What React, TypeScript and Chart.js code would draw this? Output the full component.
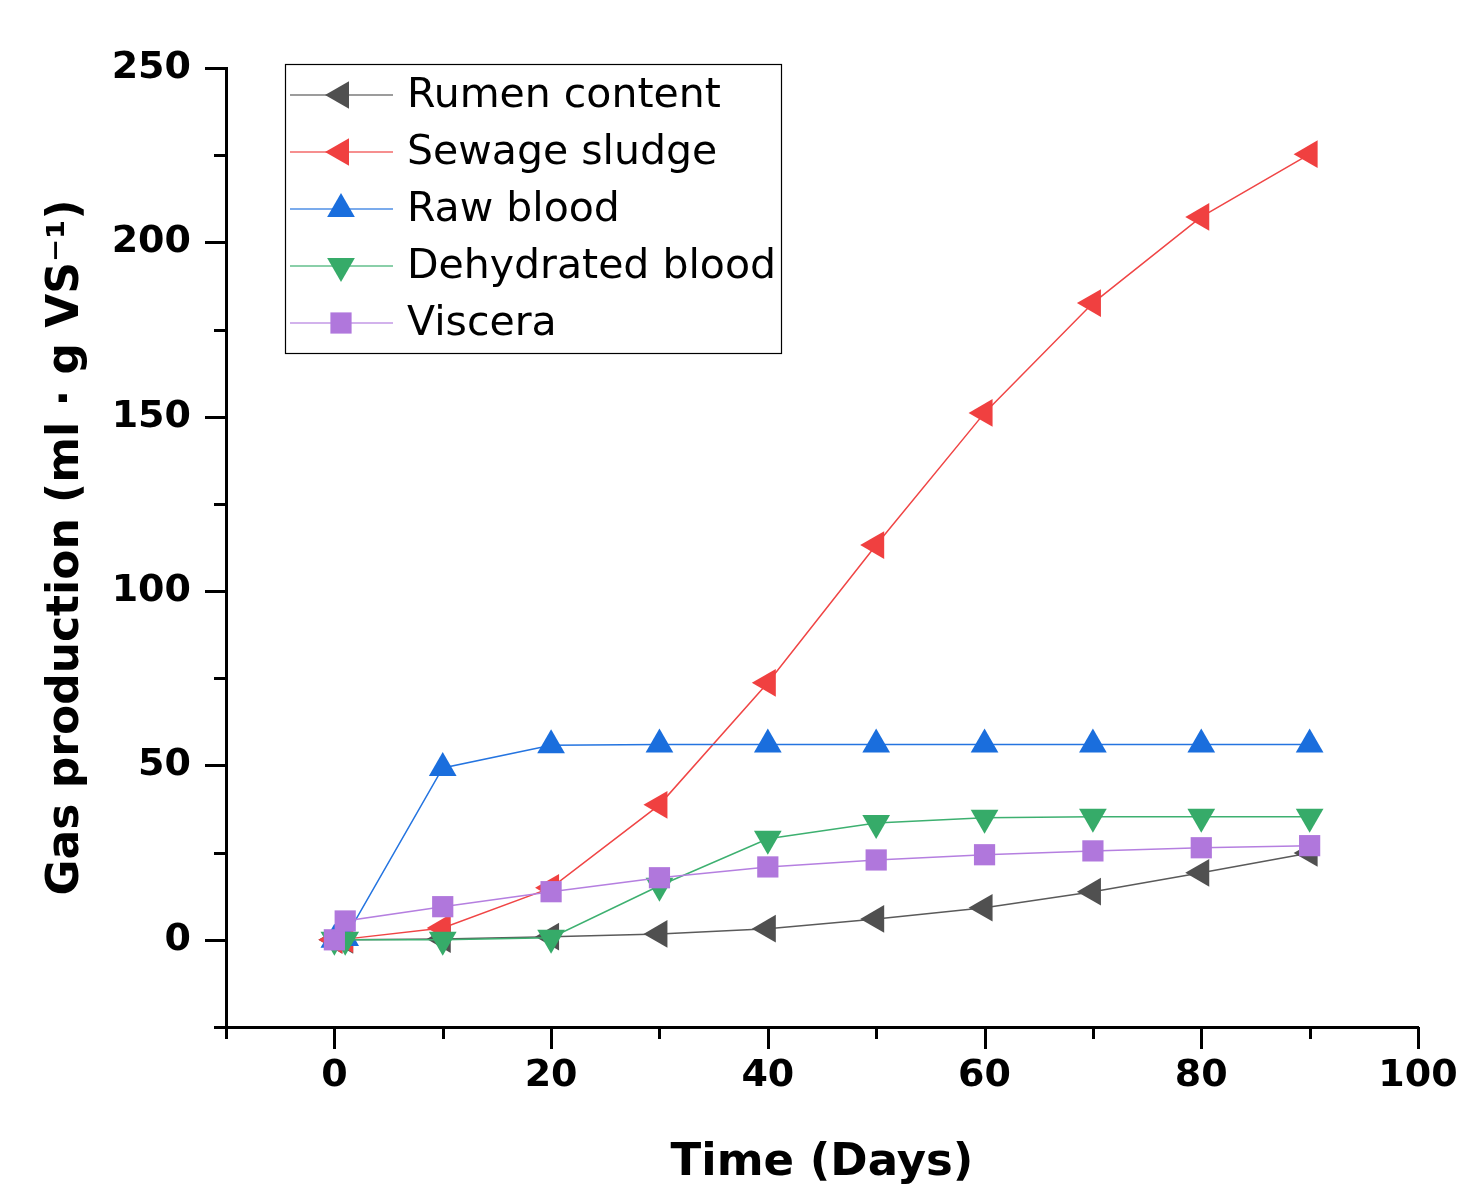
import React, { useEffect, useRef } from "react";
import { Chart, registerables } from "chart.js";

Chart.register(...registerables);

const days = [0, 1, 10, 20, 30, 40, 50, 60, 70, 80, 90];
const rumenContent = [0, 0, 0.2, 0.9, 1.7, 3.2, 6.0, 9.2, 13.8, 19.2, 24.9];
const sewageSludge = [0, 0.2, 3.4, 14.9, 38.7, 73.7, 113.2, 151.1, 182.6, 207.3, 225.3];
const rawBlood = [0, 0.5, 49.3, 55.8, 56.0, 56.0, 56.0, 56.0, 56.0, 56.0, 56.0];
const dehydratedBlood = [0, 0, 0, 0.6, 15.5, 29.0, 33.5, 35.0, 35.3, 35.3, 35.3];
const viscera = [0, 5.4, 9.5, 13.8, 17.8, 20.9, 22.9, 24.4, 25.5, 26.4, 27.0];

const seriesNames = ["Rumen content", "Sewage sludge", "Raw blood", "Dehydrated blood", "Viscera"];
const seriesValues = [rumenContent, sewageSludge, rawBlood, dehydratedBlood, viscera];
const markerColors = ["#505050", "#F04040", "#1A6EDD", "#36AB69", "#B077DC"];
const lineColors = ["#5a5a5a", "#F04545", "#2474E0", "#3DB070", "#B57FE0"];
const markerStyles = ["triangle", "triangle", "triangle", "triangle", "rect"];
const markerRotations = [-90, -90, 0, 180, 0];

const yTickMin = -25;
const yTickMax = 250;
const xTickMin = -10;
const xTickMax = 100;

function drawMarker(ctx: CanvasRenderingContext2D, style: string, rot: number, x: number, y: number, r: number) {
  ctx.beginPath();
  if (style === "rect") {
    const s = Math.SQRT1_2 * r;
    ctx.rect(x - s, y - s, 2 * s, 2 * s);
  } else {
    let rad = (rot * Math.PI) / 180;
    for (let i = 0; i < 3; i++) {
      const px = x + Math.sin(rad) * r;
      const py = y - Math.cos(rad) * r;
      if (i === 0) ctx.moveTo(px, py);
      else ctx.lineTo(px, py);
      rad += (2 * Math.PI) / 3;
    }
    ctx.closePath();
  }
  ctx.fill();
}

const customPlugin = {
  id: "customDeco",
  afterDraw(chart: any) {
    const ctx: CanvasRenderingContext2D = chart.ctx;
    const xs = chart.scales.x;
    const ys = chart.scales.y;
    const ca = chart.chartArea;
    ctx.save();
    ctx.strokeStyle = "#000";
    ctx.lineWidth = 3;
    for (let v = yTickMin; v <= yTickMax; v += 25) {
      const py = Math.round(ys.getPixelForValue(v)) + 0.5;
      const major = v % 50 === 0;
      const len = major ? 21 : 12;
      ctx.beginPath();
      ctx.moveTo(ca.left - len, py);
      ctx.lineTo(ca.left, py);
      ctx.stroke();
    }
    for (let v = xTickMin; v <= xTickMax; v += 10) {
      const px = Math.round(xs.getPixelForValue(v)) + 0.5;
      const major = v % 20 === 0;
      const len = major ? 22 : 12;
      ctx.beginPath();
      ctx.moveTo(px, ca.bottom);
      ctx.lineTo(px, ca.bottom + len);
      ctx.stroke();
    }
    // legend
    const bx = ca.left + 59;
    const by = ca.top - 4;
    const bw = 496;
    const bh = 289;
    ctx.lineWidth = 1.2;
    ctx.strokeStyle = "#000";
    ctx.strokeRect(bx + 0.5, by + 0.5, bw, bh);
    ctx.font = "41px 'DejaVu Sans'";
    ctx.textBaseline = "middle";
    ctx.textAlign = "left";
    for (let i = 0; i < seriesNames.length; i++) {
      const cy = by + 31 + i * 57;
      ctx.strokeStyle = lineColors[i];
      ctx.globalAlpha = 0.8;
      ctx.lineWidth = 1.5;
      ctx.beginPath();
      ctx.moveTo(bx + 5, cy);
      ctx.lineTo(bx + 108, cy);
      ctx.stroke();
      ctx.globalAlpha = 1;
      ctx.fillStyle = markerColors[i];
      drawMarker(ctx, markerStyles[i], markerRotations[i], bx + 56, cy, markerStyles[i] === "rect" ? 15 : 16);
      ctx.fillStyle = "#000";
      ctx.fillText(seriesNames[i], bx + 122, cy + 1);
    }
    ctx.restore();
  },
};

export default function App() {
  const ref = useRef<HTMLCanvasElement | null>(null);
  useEffect(() => {
    if (!ref.current) return;
    const datasets = seriesNames.map((name, i) => ({
      label: name,
      data: days.map((d, j) => ({ x: d, y: seriesValues[i][j] })),
      borderColor: lineColors[i],
      backgroundColor: markerColors[i],
      pointBackgroundColor: markerColors[i],
      pointBorderColor: markerColors[i],
      pointBorderWidth: 0,
      borderWidth: 1.5,
      pointStyle: markerStyles[i],
      pointRotation: markerRotations[i],
      pointRadius: markerStyles[i] === "rect" ? 15 : 16,
      tension: 0,
      order: seriesNames.length - i,
    }));
    const chart = new Chart(ref.current, {
      type: "line",
      data: { datasets },
      plugins: [customPlugin],
      options: {
        animation: false,
        responsive: false,
        maintainAspectRatio: false,
        layout: { padding: { top: 68, right: 46, left: 0, bottom: 0 } },
        plugins: { legend: { display: false }, tooltip: { enabled: false } },
        scales: {
          x: {
            type: "linear",
            min: xTickMin,
            max: xTickMax,
            afterFit: (s: any) => {
              s.height = 161;
            },
            ticks: {
              stepSize: 10,
              autoSkip: false,
              maxRotation: 0,
              padding: 4,
              color: "#000",
              font: { family: "'DejaVu Sans'", weight: "bold", size: 38 },
              callback: (v: any) => (Number(v) % 20 === 0 ? String(v) : ""),
            },
            grid: { display: false, drawTicks: true, tickLength: 22 },
            border: { display: true, color: "#000", width: 3 },
            title: {
              display: true,
              text: "Time (Days)",
              color: "#000",
              font: { family: "'DejaVu Sans'", weight: "bold", size: 45 },
              padding: { top: 0, bottom: -2 },
            },
          },
          y: {
            type: "linear",
            min: yTickMin,
            max: yTickMax,
            afterFit: (s: any) => {
              s.width = 226;
            },
            ticks: {
              stepSize: 25,
              autoSkip: false,
              padding: 14,
              color: "#000",
              font: { family: "'DejaVu Sans'", weight: "bold", size: 38 },
              callback: (v: any) => (Number(v) % 50 === 0 ? String(v) : ""),
            },
            grid: { display: false, drawTicks: true, tickLength: 21 },
            border: { display: true, color: "#000", width: 3 },
            title: {
              display: true,
              text: "Gas production (ml · g VS⁻¹)",
              color: "#000",
              font: { family: "'DejaVu Sans'", weight: "bold", size: 44 },
              padding: { top: 40, bottom: 0 },
            },
          },
        },
      },
    });
    return () => chart.destroy();
  }, []);
  return (
    <div style={{ position: "absolute", left: 0, top: 0, width: 1464, height: 1188, background: "#fff" }}>
      <canvas ref={ref} width={1464} height={1188} style={{ width: 1464, height: 1188, display: "block" }} />
    </div>
  );
}
